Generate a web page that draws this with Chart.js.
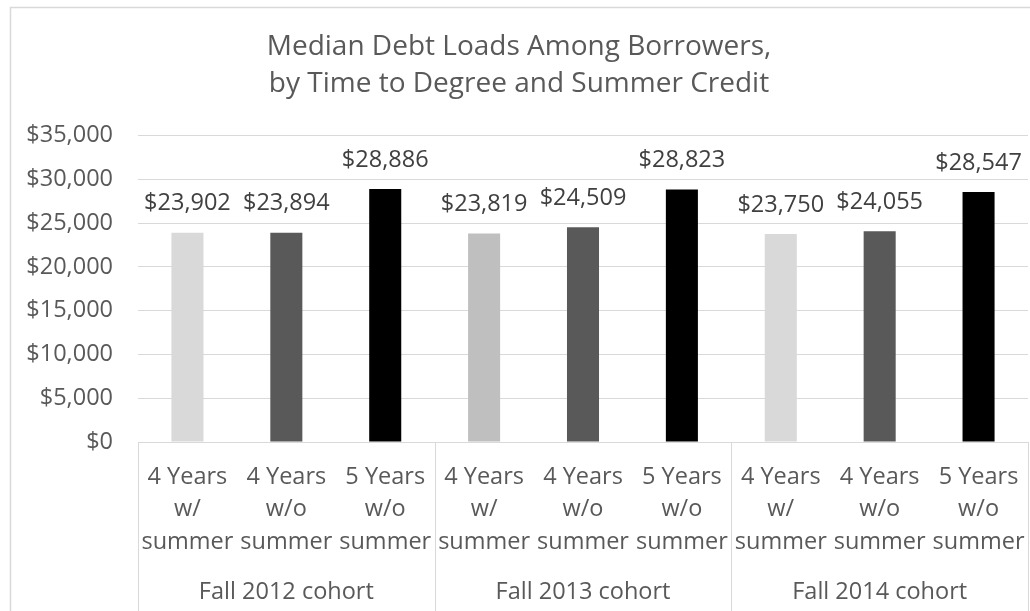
<!DOCTYPE html>
<html>
<head>
<meta charset="utf-8">
<script src="https://cdn.jsdelivr.net/npm/chart.js@4"></script>
<style>
  html, body { margin: 0; padding: 0; background: #fff; }
  #wrap { width: 1030px; height: 611px; position: relative; }
</style>
</head>
<body>
<div id="wrap"><canvas id="graficoDeuda"></canvas></div>
<script>
// datos
const cohortes = ["Fall 2012 cohort", "Fall 2013 cohort", "Fall 2014 cohort"];
const subCategorias = [
    ["4 Years", "w/", "summer"],
    ["4 Years", "w/o", "summer"],
    ["5 Years", "w/o", "summer"],
];
const deudaMediana = [23902, 23894, 28886, 23819, 24509, 28823, 23750, 24055, 28547];
const coloresBarras = ["#d9d9d9", "#595959", "#000000", "#bfbfbf", "#595959", "#000000", "#d9d9d9", "#595959", "#000000"];
const ticksY = [0, 5000, 10000, 15000, 20000, 25000, 30000, 35000];
const titulo = ["Median Debt Loads Among Borrowers,", "by Time to Degree and Summer Credit"];

const etiquetas = [];
cohortes.forEach(() => subCategorias.forEach((s) => etiquetas.push(s)));

const fuente = "'Open Sans', sans-serif";
const tam = 23.5;
const gris = "#595959";
const linea = "#d9d9d9";

const formatoDolar = (v) => "$" + v.toLocaleString("en-US");

// dibuja borde exterior, etiquetas de datos, divisores y nombres de cohorte
const extras = {
    id: "extras",
    beforeDraw(chart) {
        const ctx = chart.ctx;
        ctx.save();
        ctx.strokeStyle = linea;
        ctx.lineWidth = 1.5;
        ctx.beginPath();
        ctx.moveTo(10.5, chart.height);
        ctx.lineTo(10.5, 7.5);
        ctx.lineTo(chart.width, 7.5);
        ctx.stroke();
        ctx.restore();
    },
    afterDraw(chart) {
        const ctx = chart.ctx;
        const x = chart.scales.x;
        const area = chart.chartArea;
        const n = subCategorias.length;
        const paso = (x.right - x.left) / etiquetas.length;
        ctx.save();
        // divisores de grupo
        ctx.strokeStyle = linea;
        ctx.lineWidth = 1;
        for (let g = 0; g <= cohortes.length; g++) {
            const px = Math.round(x.left + g * n * paso) + 0.5;
            ctx.beginPath();
            ctx.moveTo(px, area.bottom);
            ctx.lineTo(px, chart.height);
            ctx.stroke();
        }
        // nombres de cohorte
        ctx.fillStyle = gris;
        ctx.font = tam + "px " + fuente;
        ctx.textAlign = "center";
        ctx.textBaseline = "middle";
        cohortes.forEach((c, g) => {
            const centro = (x.getPixelForValue(g * n) + x.getPixelForValue(g * n + n - 1)) / 2;
            ctx.fillText(c, centro, 592);
        });
        // etiquetas de datos
        ctx.fillStyle = "#404040";
        const meta = chart.getDatasetMeta(0);
        meta.data.forEach((bar, i) => {
            ctx.fillText(formatoDolar(deudaMediana[i]), bar.x, bar.y - 29);
        });
        ctx.restore();
    },
};

new Chart(document.getElementById("graficoDeuda").getContext("2d"), {
    type: "bar",
    data: {
        labels: etiquetas,
        datasets: [
            {
                label: "Median debt",
                data: deudaMediana,
                backgroundColor: coloresBarras,
                borderWidth: 0,
                categoryPercentage: 1,
                barPercentage: 0.324,
            },
        ],
    },
    options: {
        responsive: true,
        maintainAspectRatio: false,
        animation: false,
        layout: { padding: { left: 10, top: 0, right: 2, bottom: 0 } },
        plugins: {
            legend: { display: false },
            tooltip: { enabled: false },
            title: {
                display: true,
                text: titulo,
                color: gris,
                font: { family: fuente, size: 28, weight: "normal", lineHeight: 1.33 },
                padding: { top: 28, bottom: 33 },
            },
        },
        scales: {
            y: {
                min: 0,
                max: 35000,
                afterBuildTicks(scale) {
                    scale.ticks = ticksY.map((v) => ({ value: v }));
                },
                afterFit(scale) {
                    scale.width = 128;
                },
                grid: { color: linea, lineWidth: 1, drawTicks: false },
                border: { display: false },
                ticks: {
                    color: gris,
                    padding: 25,
                    font: { family: fuente, size: tam },
                    callback: (v) => formatoDolar(v),
                },
            },
            x: {
                afterFit(scale) {
                    scale.height = 169;
                    scale.paddingLeft = 0;
                    scale.paddingRight = 0;
                },
                grid: { display: false, drawTicks: false },
                border: { display: true, color: linea, width: 1 },
                ticks: {
                    color: gris,
                    padding: 19,
                    autoSkip: false,
                    maxRotation: 0,
                    font: { family: fuente, size: tam, lineHeight: 1.38 },
                },
            },
        },
    },
    plugins: [extras],
});
</script>
</body>
</html>
